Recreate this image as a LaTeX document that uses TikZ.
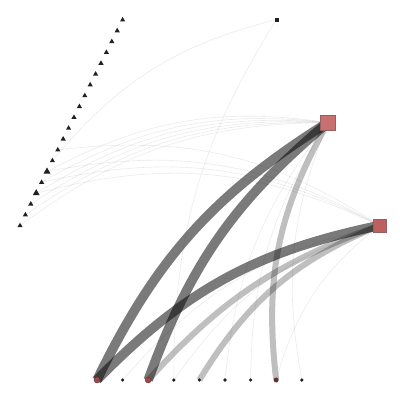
\documentclass[tikz,border=0pt]{standalone}
\usepackage{xcolor}
\usepackage{tikz}
\usetikzlibrary{shapes.geometric,backgrounds}

\definecolor{hubred}{RGB}{200,112,112}
\definecolor{hubredd}{RGB}{190,96,96}
\definecolor{hubline}{RGB}{150,96,96}
\definecolor{dotred}{RGB}{160,72,72}
\definecolor{dotbrown}{RGB}{92,52,52}
\definecolor{dotblack}{RGB}{36,30,30}

\begin{document}
\begin{tikzpicture}[x=1pt, y=-1pt]
    % Styles
    \tikzstyle{tri}=[regular polygon, regular polygon sides=3, fill=dotblack, inner sep=0pt, minimum size=6pt]
    \tikzstyle{hub}=[rectangle, inner sep=0pt, minimum size=15pt, fill=hubred, draw=hubline, line width=0.6pt]
    \tikzstyle{dot}=[circle, inner sep=0pt, minimum size=3.6pt, fill=dotblack]
    \tikzstyle{heavy}=[line width=9.5pt, draw=black, opacity=0.52]
    \tikzstyle{medium}=[line width=6pt, draw=black, opacity=0.25]
    \tikzstyle{faint}=[line width=0.6pt, draw=black, opacity=0.08]

    \useasboundingbox (0,0) rectangle (400,400);

    % Left axis
    \foreach \k in {0,...,19}
        \node[tri] (t\k) at ({20+5.4*\k},{225.7-10.83*\k}) {};
    \node[tri, minimum size=8pt] at (t3) {};
    \node[tri, minimum size=8pt] at (t5) {};

    % Right axis
    \node[hub, minimum size=4pt, fill=dotblack, draw=none] (s1) at (276.5,19.5) {};
    \node[hub] (s2) at (328,122.5) {};
    \node[hub, minimum size=13pt, fill=hubredd] (s3) at (379.5,225.5) {};

    % Bottom axis
    \foreach \i/\x in {1/97,2/122.6,3/148.2,4/173.8,5/199.4,6/225,7/250.6,8/276.2,9/301.8}
        \node[dot] (c\i) at (\x,380) {};
    \node[dot, minimum size=6pt, fill=dotred, draw=dotbrown, line width=0.4pt] at (c1) {};
    \node[dot, minimum size=6pt, fill=dotred, draw=dotbrown, line width=0.4pt] at (c3) {};
    \node[dot, minimum size=5pt, fill=dotbrown] at (c8) {};

    % Edges
    \begin{pgfonlayer}{background}
        \foreach \k in {0,1,2,3,4,5}
            \draw[faint] (t\k.center) to[bend left=18] (s2.center);
        \foreach \k in {3,4,5,7}
            \draw[faint] (t\k.center) to[bend left=20] (s3.center);
        \draw[faint] (t6.center) to[bend left=18] (s1.center);
        \draw[faint] (c4.center) to[bend left=16] (s1.center);
        \foreach \i in {2,4,8}
            \draw[faint] (c\i.center) to[bend left=18] (s3.center);
        \foreach \i in {6,7,9}
            \draw[faint] (c\i.center) to[bend left=16] (s2.center);

        \draw[heavy] (c1.center) to[bend left=16] (s2.center);
        \draw[heavy] (c3.center) to[bend left=15] (s2.center);
        \draw[heavy] (c1.center) to[bend left=17] (s3.center);
        \draw[medium] (c8.center) to[bend left=18] (s2.center);
        \draw[medium] (c3.center) to[bend left=14] (s3.center);
        \draw[medium] (c5.center) to[bend left=18] (s3.center);
    \end{pgfonlayer}
\end{tikzpicture}
\end{document}
